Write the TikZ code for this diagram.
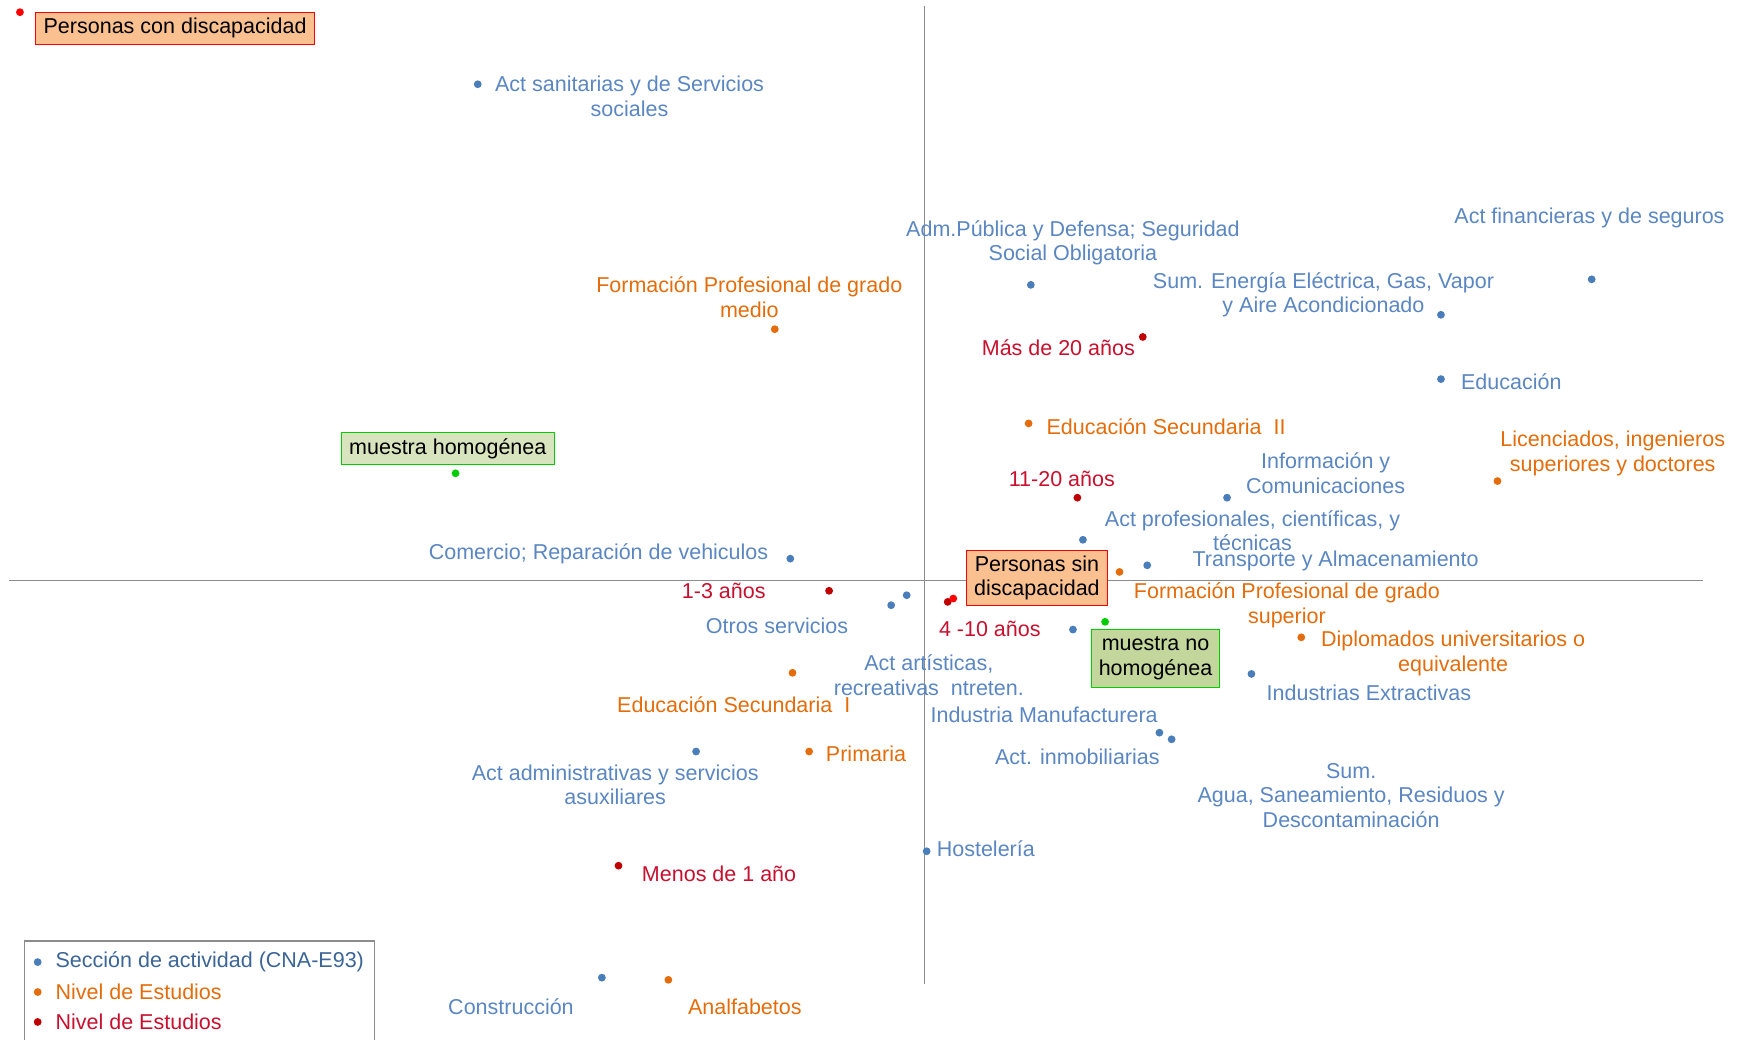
\documentclass[tikz,border=0pt]{standalone}
\usepackage{fontspec}
\setmainfont{Liberation Sans}
\definecolor{cB}{HTML}{4A7EBB}
\definecolor{cBt}{HTML}{5A86C2}
\definecolor{cO}{HTML}{E46C0A}
\definecolor{cR}{HTML}{C00000}
\definecolor{cRt}{HTML}{C8102E}
\definecolor{cRR}{HTML}{FF0000}
\definecolor{cG}{HTML}{00CC00}
\definecolor{peach}{HTML}{FAC090}
\definecolor{lgreen}{HTML}{D7E4BD}
\definecolor{mgreen}{HTML}{C3D69B}
\definecolor{axisgray}{HTML}{8C8C8C}
\begin{document}
\begin{tikzpicture}[x=1.1084pt,y=-1.1084pt,
  every node/.style={font=\fontsize{21.5}{24.4}\selectfont, inner sep=0pt, align=center},
  mydot/.style={circle, fill=#1, minimum size=7.8pt, inner sep=0pt},
  lblB/.style={text=cBt, yshift=-2.2pt},
  lblO/.style={text=cO, yshift=-2.2pt},
  lblR/.style={text=cRt, yshift=-2.2pt},
  boxR/.style={draw=cRR, fill=peach, line width=1.2pt, text=black},
  boxG/.style={draw=cG, fill=#1, line width=1.2pt, text=black},
  axisline/.style={draw=axisgray, line width=1.3pt}]
\useasboundingbox (0,0) rectangle (1568,938);
% axes
\coordinate (vtop) at (834,5);
\coordinate (vbot) at (834,888);
\coordinate (hl) at (8,524);
\coordinate (hr) at (1536,524);
\draw[axisline] (vtop) -- (vbot);
\draw[axisline] (hl) -- (hr);

% blue points
\node[mydot=cB] (b1) at (431,76) {};
\node[mydot=cB] (b2) at (930,257) {};
\node[mydot=cB] (b3) at (1300,284) {};
\node[mydot=cB] (b4) at (1436,252) {};
\node[mydot=cB] (b5) at (1300,342) {};
\node[mydot=cB] (b6) at (1107,449) {};
\node[mydot=cB] (b7) at (977,487) {};
\node[mydot=cB] (b8) at (1035,510) {};
\node[mydot=cB] (b9) at (713,504) {};
\node[mydot=cB] (b10) at (804,546) {};
\node[mydot=cB] (b11) at (818,537) {};
\node[mydot=cB] (b12) at (968,568) {};
\node[mydot=cB] (b13) at (1129,608) {};
\node[mydot=cB] (b14) at (1046,661) {};
\node[mydot=cB] (b15) at (1057,667) {};
\node[mydot=cB] (b16) at (628,678) {};
\node[mydot=cB] (b17) at (836,768) {};
\node[mydot=cB] (b18) at (543,882) {};
% orange points
\node[mydot=cO] (o1) at (699,297) {};
\node[mydot=cO] (o2) at (928,382) {};
\node[mydot=cO] (o3) at (1351,434) {};
\node[mydot=cO] (o4) at (1010,516) {};
\node[mydot=cO] (o5) at (1174,575) {};
\node[mydot=cO] (o6) at (715,607) {};
\node[mydot=cO] (o7) at (730,678) {};
\node[mydot=cO] (o8) at (603,884) {};
% red points
\node[mydot=cR] (r1) at (1031,304) {};
\node[mydot=cR] (r2) at (972,449) {};
\node[mydot=cR] (r3) at (748,533) {};
\node[mydot=cR] (r4) at (855,543) {};
\node[mydot=cRR] (r5) at (860,540) {};
\node[mydot=cR] (r6) at (558,781) {};
\node[mydot=cRR] (r7) at (18,11) {};
% green points
\node[mydot=cG] (g1) at (411,427) {};
\node[mydot=cG] (g2) at (997,561) {};

% blue labels
\node[lblB] (lb1) at (568,85) {Act sanitarias y de Servicios\\sociales};
\node[lblB] (lb2) at (968,217) {Adm.Pública y Defensa; Seguridad\\Social Obligatoria};
\node[lblB] (lb3) at (1194,264) {Sum. Energía Eléctrica, Gas, Vapor\\y Aire Acondicionado};
\node[lblB] (lb4) at (1434,195) {Act financieras y de seguros};
\node[lblB, anchor=west] (lb5) at (1318,342) {Educación};
\node[lblB] (lb6) at (1196,425) {Información y\\Comunicaciones};
\node[lblB] (lb7) at (1130,477) {Act profesionales, científicas, y\\técnicas};
\node[lblB] (lb8) at (1205,504) {Transporte y Almacenamiento};
\node[lblB] (lb9) at (540,498) {Comercio; Reparación de vehiculos};
\node[lblB] (lb10) at (701,563) {Otros servicios};
\node[lblB] (lb11) at (838,607) {Act artísticas,\\recreativas\ \ ntreten.};
\node[lblB] (lb12) at (942,643) {Industria Manufacturera};
\node[lblB] (lb13) at (972,681) {Act. inmobiliarias};
\node[lblB] (lb14) at (1235,623) {Industrias Extractivas};
\node[lblB] (lb15) at (1219,715.5) {Sum.\\Agua, Saneamiento, Residuos y\\Descontaminación};
\node[lblB] (lb16) at (555,706) {Act administrativas y servicios\\asuxiliares};
\node[lblB, anchor=west] (lb17) at (845,764) {Hostelería};
\node[lblB] (lb18) at (461,906) {Construcción};
% orange labels
\node[lblO] (lo1) at (676,266) {Formación Profesional de grado\\medio};
\node[lblO, anchor=west] (lo2) at (944,383) {Educación Secundaria\ \ II};
\node[lblO] (lo3) at (1455,407) {Licenciados, ingenieros\\superiores y doctores};
\node[lblO] (lo4) at (1161,544) {Formación Profesional de grado\\superior};
\node[lblO] (lo5) at (1311,587.5) {Diplomados universitarios o\\equivalente};
\node[lblO] (lo6) at (662,634) {Educación Secundaria\ \ I};
\node[lblO, anchor=west] (lo7) at (745,678) {Primaria};
\node[lblO] (lo8) at (672,906) {Analfabetos};
% red labels
\node[lblR, anchor=east] (lr1) at (1024,312) {Más de 20 años};
\node[lblR] (lr2) at (958,430) {11-20 años};
\node[lblR] (lr3) at (653,531) {1-3 años};
\node[lblR] (lr4) at (893,565) {4 -10 años};
\node[lblR, anchor=west] (lr5) at (579,786) {Menos de 1 año};

% boxed labels
\node[boxR, minimum width=279.3pt, minimum height=32.1pt] (bx1) at (158,25.5) {Personas con discapacidad};
\node[boxR, minimum width=140.8pt, minimum height=54.3pt] (bx2) at (935.5,521.5) {Personas sin\\discapacidad};
\node[boxG=lgreen, minimum width=212.8pt, minimum height=32.1pt] (bx3) at (404,404.5) {muestra homogénea};
\node[boxG=mgreen, minimum width=127.5pt, minimum height=57.6pt] (bx4) at (1042.5,594) {muestra no\\homogénea};

% legend
\coordinate (lgA) at (22,849);
\coordinate (lgB) at (338,945);
\draw[draw=axisgray, line width=1.2pt] (lgA) rectangle (lgB);
\node[mydot=cB] (ld1) at (34,868) {};
\node[mydot=cO] (ld2) at (34,895) {};
\node[mydot=cR] (ld3) at (34,922) {};
\node[text=cB!80!black, anchor=west, yshift=-2pt] (lt1) at (50,866) {Sección de actividad (CNA-E93)};
\node[text=cO, anchor=west, yshift=-2pt] (lt2) at (50,893) {Nivel de Estudios};
\node[text=cRt, anchor=west, yshift=-2pt] (lt3) at (50,920) {Nivel de Estudios};
\end{tikzpicture}
\end{document}
